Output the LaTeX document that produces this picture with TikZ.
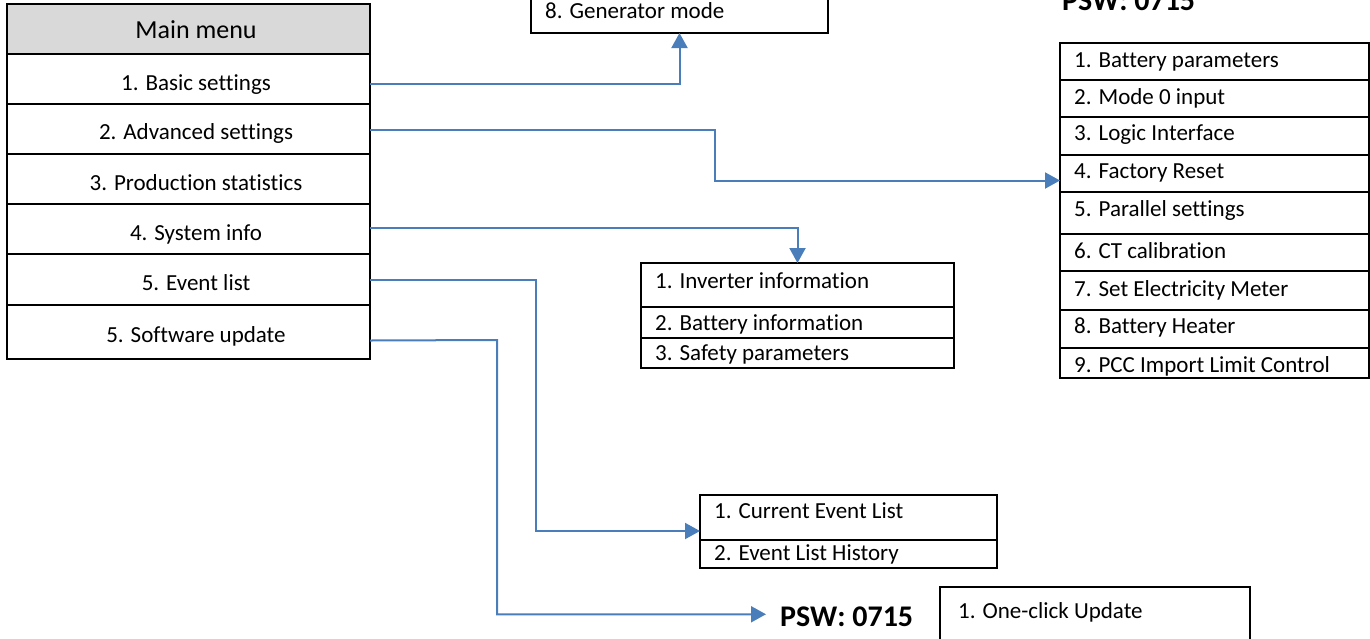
\documentclass[tikz,border=0pt]{standalone}
\usepackage{fontspec}
\setmainfont{Carlito}[Ligatures=NoCommon]
\usetikzlibrary{arrows.meta}
\definecolor{conn}{HTML}{4A7EBB}
\definecolor{hdr}{HTML}{D9D9D9}
\tikzset{
  cell/.style={draw=black, line width=2.8pt, anchor=north west, inner sep=0pt, outer sep=0pt},
  lbl/.style={inner sep=0pt, font=\fontsize{23}{27}\selectfont},
  psw/.style={inner sep=0pt, font=\fontsize{30}{34}\selectfont\bfseries},
  link/.style={draw=conn, line width=2pt, -{Triangle[width=16pt,length=15pt]}},
}
\begin{document}
\begin{tikzpicture}[x=1pt, y=-1pt]
\useasboundingbox (0,0) rectangle (1370,638);
% main menu
\node[cell, fill=hdr, minimum width=363pt, minimum height=50pt] (mh) at (7,4) {};
\node[cell, minimum width=363pt, minimum height=50pt] (m1) at (7,54) {};
\node[cell, minimum width=363pt, minimum height=50pt] (m2) at (7,104) {};
\node[cell, minimum width=363pt, minimum height=50pt] (m3) at (7,154) {};
\node[cell, minimum width=363pt, minimum height=50pt] (m4) at (7,204) {};
\node[cell, minimum width=363pt, minimum height=51pt] (m5) at (7,254) {};
\node[cell, minimum width=363pt, minimum height=54pt] (m6) at (7,305) {};
\node[lbl, anchor=base, font=\fontsize{26}{30}\selectfont] (tmh) at (196,38) {Main menu};
\node[lbl, anchor=base] (tm1) at (196,90) {1. Basic settings};
\node[lbl, anchor=base] (tm2) at (196,139) {2. Advanced settings};
\node[lbl, anchor=base] (tm3) at (196,190) {3. Production statistics};
\node[lbl, anchor=base] (tm4) at (196,240) {4. System info};
\node[lbl, anchor=base] (tm5) at (196,290) {5. Event list};
\node[lbl, anchor=base] (tm6) at (196,342) {5. Software update};
% generator
\node[cell, minimum width=297pt, minimum height=45pt] (gen) at (531,-12) {};
\node[lbl, anchor=base west] (tgen) at (545,18) {8. Generator mode};
% PSW top
\node[psw, anchor=base west] (pswtop) at (1062,10) {PSW: 0715};
% advanced list
\node[cell, minimum width=309pt, minimum height=37pt] (r1) at (1060,43) {};
\node[cell, minimum width=309pt, minimum height=37pt] (r2) at (1060,80) {};
\node[cell, minimum width=309pt, minimum height=38pt] (r3) at (1060,117) {};
\node[cell, minimum width=309pt, minimum height=37pt] (r4) at (1060,155) {};
\node[cell, minimum width=309pt, minimum height=42pt] (r5) at (1060,192) {};
\node[cell, minimum width=309pt, minimum height=37pt] (r6) at (1060,234) {};
\node[cell, minimum width=309pt, minimum height=39pt] (r7) at (1060,271) {};
\node[cell, minimum width=309pt, minimum height=38pt] (r8) at (1060,310) {};
\node[cell, minimum width=309pt, minimum height=30pt] (r9) at (1060,348) {};
\node[lbl, anchor=base west] (tr1) at (1074,67) {1. Battery parameters};
\node[lbl, anchor=base west] (tr2) at (1074,104) {2. Mode 0 input};
\node[lbl, anchor=base west] (tr3) at (1074,140) {3. Logic Interface};
\node[lbl, anchor=base west] (tr4) at (1074,178) {4. Factory Reset};
\node[lbl, anchor=base west] (tr5) at (1074,216) {5. Parallel settings};
\node[lbl, anchor=base west] (tr6) at (1074,258) {6. CT calibration};
\node[lbl, anchor=base west] (tr7) at (1074,296) {7. Set Electricity Meter};
\node[lbl, anchor=base west] (tr8) at (1074,333) {8. Battery Heater};
\node[lbl, anchor=base west] (tr9) at (1074,372) {9. PCC Import Limit Control};
% system info
\node[cell, minimum width=313pt, minimum height=44pt] (s1) at (641,263) {};
\node[cell, minimum width=313pt, minimum height=31pt] (s2) at (641,307) {};
\node[cell, minimum width=313pt, minimum height=30pt] (s3) at (641,338) {};
\node[lbl, anchor=base west] (ts1) at (655,288) {1. Inverter information};
\node[lbl, anchor=base west] (ts2) at (655,330) {2. Battery information};
\node[lbl, anchor=base west] (ts3) at (655,360) {3. Safety parameters};
% event list
\node[cell, minimum width=297pt, minimum height=45pt] (e1) at (700,495) {};
\node[cell, minimum width=297pt, minimum height=28pt] (e2) at (700,540) {};
\node[lbl, anchor=base west] (te1) at (714,518) {1. Current Event List};
\node[lbl, anchor=base west] (te2) at (714,560) {2. Event List History};
% software update
\node[psw, anchor=base west] (pswb) at (780,626) {PSW: 0715};
\node[cell, minimum width=310pt, minimum height=60pt] (o1) at (940,587) {};
\node[lbl, anchor=base west] (to1) at (958,618) {1. One-click Update};
% connectors
\coordinate (b2) at (715,130);
\coordinate (b5) at (536,280);
\coordinate (b6) at (497,340);
\draw[link] ([yshift=-5pt]m1.east) -| (gen.south);
\draw[link] ([yshift=-1pt]m2.east) -- (b2) |- ([yshift=-7pt]r4.west);
\draw[link] ([yshift=1pt]m4.east) -| (s1.north);
\draw[link] ([yshift=-0.5pt]m5.east) -- (b5) |- ([yshift=-13.5pt]e1.west);
\draw[link] ([yshift=-8.5pt]m6.east) -- (b6) |- ([xshift=-14pt,yshift=2pt]pswb.west);
\end{tikzpicture}
\end{document}
